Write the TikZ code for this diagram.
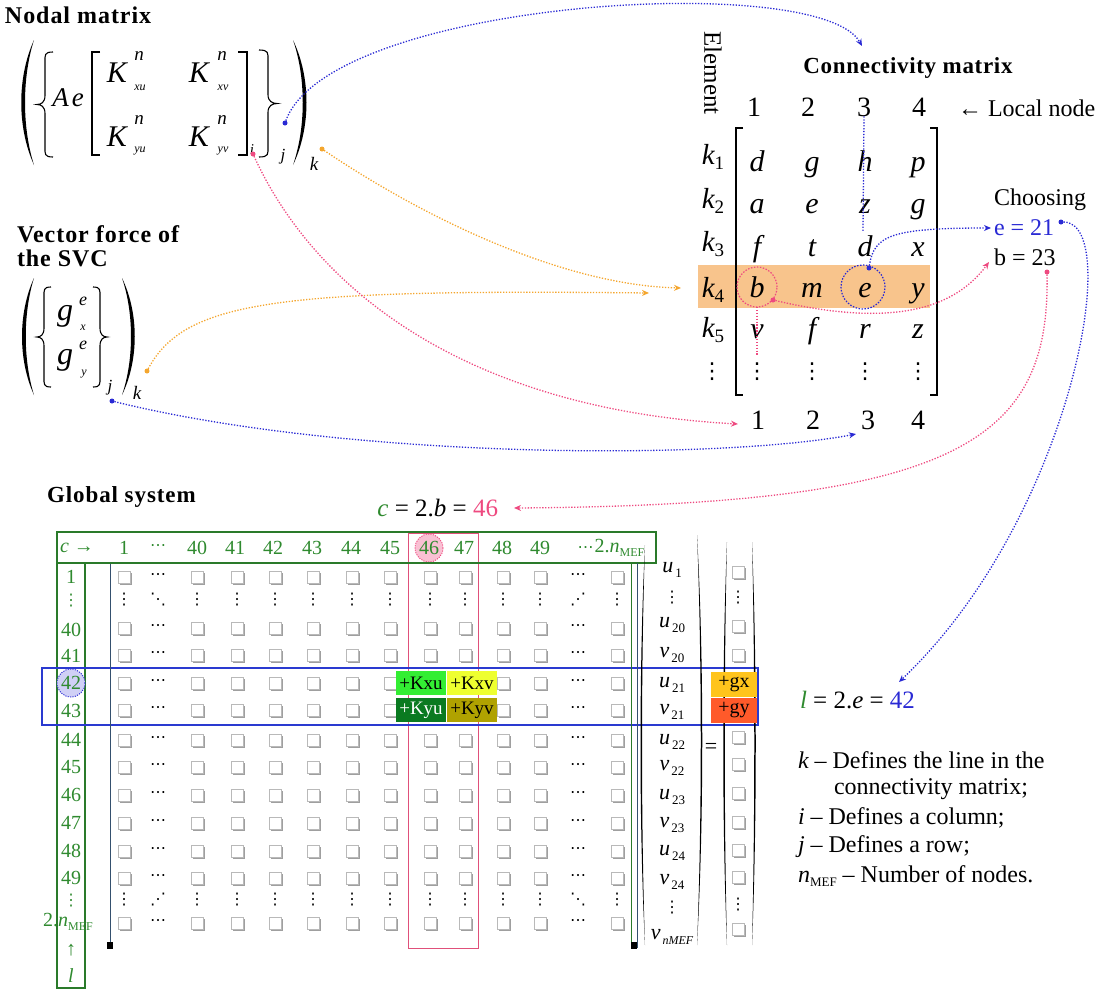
\documentclass[tikz,border=0pt]{standalone}
\usepackage{fontspec}
\setmainfont{Liberation Serif}
\newfontfamily\symf{DejaVu Sans}
\usetikzlibrary{arrows.meta,shadows}
\newcommand{\fsz}[1]{\fontsize{#1}{#1}\selectfont}
\definecolor{cblue}{HTML}{2A2AD4}
\definecolor{cpink}{HTML}{EE4A80}
\definecolor{corange}{HTML}{F4A62E}
\definecolor{cgreen}{HTML}{2F8A2F}
\definecolor{cgbox}{HTML}{2A7A2A}
\definecolor{hlor}{HTML}{F8C48C}
\definecolor{rectpink}{HTML}{E0507A}
\definecolor{rectblue}{HTML}{2A3AD0}
\definecolor{kxu}{HTML}{33EE33}
\definecolor{kxv}{HTML}{EEFF30}
\definecolor{kyu}{HTML}{0A7A20}
\definecolor{kyv}{HTML}{B0A200}
\definecolor{gxc}{HTML}{FFC41C}
\definecolor{gyc}{HTML}{FF5A2A}
\definecolor{brk}{HTML}{34506E}
% brace: tip x, top, bottom, width (negative = right brace)
\newcommand{\Brc}[4]{\draw[line width=1.1pt] ({#1+#4},#2) .. controls ({#1+0.45*#4},#2) and ({#1+0.5*#4},{#2+3}) .. ({#1+0.5*#4},{#2+10}) -- ({#1+0.5*#4},{(#2+#3)/2-9}) .. controls ({#1+0.5*#4},{(#2+#3)/2-2}) and ({#1+0.25*#4},{(#2+#3)/2}) .. (#1,{(#2+#3)/2}) .. controls ({#1+0.25*#4},{(#2+#3)/2}) and ({#1+0.5*#4},{(#2+#3)/2+2}) .. ({#1+0.5*#4},{(#2+#3)/2+9}) -- ({#1+0.5*#4},{#3-10}) .. controls ({#1+0.5*#4},{#3-3}) and ({#1+0.45*#4},#3) .. ({#1+#4},#3);}
% paren: end x, top, bottom, outer bulge, inner bulge
\newcommand{\Prn}[5]{\fill[black] (#1,#2) .. controls ({#1-#4},{#2+0.3*(#3-#2)}) and ({#1-#4},{#3-0.3*(#3-#2)}) .. (#1,#3) .. controls ({#1-#5},{#3-0.3*(#3-#2)}) and ({#1-#5},{#2+0.3*(#3-#2)}) .. (#1,#2) -- cycle;}
% bracket: x, top, bottom, width
\newcommand{\Brk}[4]{\draw[line width=1.3pt] ({#1+#4},#2) -- (#1,#2) -- (#1,#3) -- ({#1+#4},#3);}
\begin{document}
\begin{tikzpicture}[x=1pt,y=-1pt,
  every node/.style={inner sep=0pt, outer sep=0pt},
  ttl/.style={anchor=west, font=\fsz{24}\bfseries\addfontfeatures{LetterSpace=4}},
  endpt/.style={circle, minimum size=5pt, fill=#1},
  conn/.style={draw=#1, line width=1.3pt, dash pattern=on 1.3pt off 1.6pt, -{Stealth[length=7pt,width=6pt]}},
  vline/.style={draw=#1, line width=1.3pt, dash pattern=on 1.3pt off 1.6pt},
  dcirc/.style={circle, draw=#1, dash pattern=on 1.5pt off 1.5pt, line width=1.2pt},
  cent/.style={anchor=base, font=\fsz{30}\itshape},
  hdr/.style={font=\fsz{20}, text=cgreen},
  gdot/.style={font=\symf\fsz{16}},
  cbx/.style={minimum size=12pt, draw=gray!55, line width=0.6pt, fill=white, drop shadow={shadow xshift=1.7pt, shadow yshift=-1.7pt, fill=gray!75, opacity=1}},
  cell/.style={minimum width=50pt, minimum height=24pt, font=\fsz{19}},
  uent/.style={font=\fsz{22}},
  leg/.style={anchor=west, font=\fsz{24}}]
\useasboundingbox (0,0) rectangle (1120,1002);

%%%%% Nodal matrix
\node[ttl] (tnodal) at (5,15) {Nodal matrix};
\Prn{34}{40}{165}{17}{12}
\Prn{293}{40}{165}{-18}{-13}
\Brc{37}{52}{157}{16}
\Brc{277}{50}{157}{-18}
\Brk{92}{52}{155}{8}
\Brk{247}{52}{155}{-9}
\node[font=\fsz{27}\itshape] (Ae) at (68,98) {A\kern3pt e};
\node[font=\fsz{30}\itshape] (K11) at (117,73) {K};
\node[font=\fsz{19}\itshape] (n11) at (139,56) {n};
\node[font=\fsz{12}\itshape] (s11) at (140,88) {xu};
\node[font=\fsz{30}\itshape] (K12) at (199,73) {K};
\node[font=\fsz{19}\itshape] (n12) at (222,56) {n};
\node[font=\fsz{12}\itshape] (s12) at (223,88) {xv};
\node[font=\fsz{30}\itshape] (K21) at (117,137) {K};
\node[font=\fsz{19}\itshape] (n21) at (139,120) {n};
\node[font=\fsz{12}\itshape] (s21) at (140,151) {yu};
\node[font=\fsz{30}\itshape] (K22) at (199,137) {K};
\node[font=\fsz{19}\itshape] (n22) at (222,120) {n};
\node[font=\fsz{12}\itshape] (s22) at (223,151) {yv};
\node[font=\fsz{15}\itshape] (ni) at (252,150) {i};
\node[font=\fsz{17}\itshape] (nj) at (283,157) {j};
\node[font=\fsz{19}\itshape] (nk) at (314,164) {k};

%%%%% Vector force
\node[ttl] (tvec1) at (17,234) {Vector force of};
\node[ttl] (tvec2) at (17,258) {the SVC};
\Prn{34}{278}{395}{16}{11}
\Prn{122}{278}{395}{-17}{-12}
\Brc{37}{287}{387}{14}
\Brc{107}{287}{387}{-14}
\node[font=\fsz{32}\itshape] (gx) at (65,316) {g};
\node[font=\fsz{18}\itshape] (gxe) at (83,301) {e};
\node[font=\fsz{12}\itshape] (gxs) at (83,328) {x};
\node[font=\fsz{32}\itshape] (gy) at (65,360) {g};
\node[font=\fsz{18}\itshape] (gye) at (83,345) {e};
\node[font=\fsz{12}\itshape] (gys) at (84,374) {y};
\node[font=\fsz{17}\itshape] (vj) at (110,388) {j};
\node[font=\fsz{19}\itshape] (vk) at (137,393) {k};

%%%%% Connectivity matrix
\fill[hlor] (698,265) rectangle (930,308);
\node[rotate=-90, font=\fsz{25}] (elem) at (713,73) {Element};
\node[font=\fsz{23}\bfseries\addfontfeatures{LetterSpace=3}] (tconn) at (908,68) {Connectivity matrix};
\node[font=\fsz{28}] (hd1) at (754,107) {1};
\node[font=\fsz{28}] (hd2) at (808,107) {2};
\node[font=\fsz{28}] (hd3) at (864,107) {3};
\node[font=\fsz{28}] (hd4) at (919,107) {4};
\node[anchor=west, font=\fsz{24}] (lnode) at (958,108) {← Local node};
\Brk{736}{128}{395}{7}
\Brk{937}{128}{395}{-7}
\node[anchor=base, font=\fsz{29}] (k1) at (713,164) {\itshape k\upshape\fsz{19}\raisebox{-5pt}{1}};
\node[anchor=base, font=\fsz{29}] (k2) at (713,208) {\itshape k\upshape\fsz{19}\raisebox{-5pt}{2}};
\node[anchor=base, font=\fsz{29}] (k3) at (713,251) {\itshape k\upshape\fsz{19}\raisebox{-5pt}{3}};
\node[anchor=base, font=\fsz{29}] (k4) at (713,297) {\itshape k\upshape\fsz{19}\raisebox{-5pt}{4}};
\node[anchor=base, font=\fsz{29}] (k5) at (713,337) {\itshape k\upshape\fsz{19}\raisebox{-5pt}{5}};
\node[font=\symf\fsz{22}] (kd) at (712,372) {⋮};
\foreach \a/\b/\c/\d/\yy [count=\i] in {d/g/h/p/171, a/e/z/g/213, f/t/d/x/256, b/m/e/y/297, v/f/r/z/338} {
  \node[cent] (e\i-1) at (757,\yy) {\a};
  \node[cent] (e\i-2) at (812,\yy) {\b};
  \node[cent] (e\i-3) at (865,\yy) {\c};
  \node[cent] (e\i-4) at (918,\yy) {\d};
}
\foreach \xx [count=\i] in {757,812,865,918} {\node[font=\symf\fsz{22}] (ed\i) at (\xx,372) {⋮};}
\node[font=\fsz{28}] (bt1) at (758,420) {1};
\node[font=\fsz{28}] (bt2) at (813,420) {2};
\node[font=\fsz{28}] (bt3) at (868,420) {3};
\node[font=\fsz{28}] (bt4) at (918,420) {4};
\node[dcirc=cpink, minimum size=40pt] (bcirc) at (757,287) {};
\node[dcirc=cblue, minimum size=44pt] (ecirc) at (863,287) {};
\coordinate (c3end) at (863,232);
\draw[vline=cblue] (hd3.south) -- (c3end);
\coordinate (bvend) at (757,355);
\draw[vline=cpink] (bcirc.south) -- (bvend);
\node[anchor=west, font=\fsz{24}] (choos) at (994,200) {Choosing};
\node[anchor=west, font=\fsz{24}, text=cblue] (e21) at (994,228) {e = 21};
\node[anchor=west, font=\fsz{24}] (b23) at (994,257) {b = 23};

%%%%% Global system
\node[ttl, font=\fsz{23}\bfseries\addfontfeatures{LetterSpace=4}] (tglob) at (47,497) {Global system};
\node[anchor=east, font=\fsz{25}] (ceq) at (498,508) {\textcolor{cgreen}{\itshape c} = 2.{\itshape b} = \textcolor{cpink}{46}};
% pink column
\draw[rectpink, line width=1pt] (408,533) rectangle (478,948);
\node[circle, minimum size=28pt, fill=cpink!35, draw=cpink, dash pattern=on 1.2pt off 1.2pt, line width=0.9pt] (c46) at (429,548) {};
\draw[cgbox, line width=1.2pt] (57,532) rectangle (656,563);
\draw[cgbox, line width=1.2pt] (57,563) rectangle (85,988);
\node[hdr] (hc) at (77,548) {{\itshape c} →};
\foreach \t/\xx [count=\i] in {1/124, 40/197, 41/235, 42/273, 43/312, 44/351, 45/390, 46/429, 47/464, 48/502, 49/540} {\node[hdr] (h\i) at (\xx,548) {\t};}
\node[hdr, font=\symf\fsz{16}] (hdots) at (158,548) {⋯};
\node[hdr] (hn) at (611,548) {{\symf\fsz{16}⋯}\kern1pt2.{\itshape n}{\fsz{12}\raisebox{-4pt}{MEF}}};
% blue row highlight
\node[circle, minimum size=28pt, fill=cblue!22, draw=cblue, dash pattern=on 1.2pt off 1.2pt, line width=0.9pt] (c42) at (71,683) {};
\draw[rectblue, line width=1.3pt] (42,668) rectangle (758,725);
% row labels
\foreach \t/\yy [count=\i] in {1/577, 40/630, 41/656, 42/683, 43/711, 44/740, 45/767, 46/795, 47/823, 48/851, 49/878} {\node[hdr] (r\i) at (71,\yy) {\t};}
\node[hdr, font=\symf\fsz{16}] (rd1) at (71,601) {⋮};
\node[hdr, font=\symf\fsz{16}] (rd2) at (71,901) {⋮};
\node[hdr] (rn) at (68,922) {2.{\itshape n}{\fsz{12}\raisebox{-4pt}{MEF}}};
\node[hdr] (rarr) at (71,950) {↑};
\node[hdr, font=\fsz{20}\itshape] (rl) at (71,976) {l};
% matrix brackets
\draw[brk, line width=0.9pt] (110,564) -- (110,948);
\fill (107,942) rectangle (113,949);
\draw[cgbox, line width=1pt] (631,563) -- (631,948);
\draw[brk, line width=0.9pt] (637,563) -- (637,948);
\fill (631,942) rectangle (637,949);
% grid
\foreach \yy [count=\r] in {577,600,628,655,683,710,740,767,795,823,851,878,900,923} {
  \foreach \xx [count=\cc] in {124,158,197,237,275,313,352,390,430,465,503,540,578,617} {
    \pgfmathtruncatemacro{\dr}{(\r==2)+(\r==13)}
    \pgfmathtruncatemacro{\dc}{(\cc==2)+(\cc==13)}
    \pgfmathtruncatemacro{\hid}{((\r==5)+(\r==6))*((\cc==9)+(\cc==10))}
    \pgfmathtruncatemacro{\dd}{(\r==2)*(\cc==2)+(\r==13)*(\cc==13)}
    \ifnum\hid=0
      \ifnum\dr=1
        \ifnum\dc=1
          \ifnum\dd=1 \node[gdot] (g\r-\cc) at (\xx,\yy) {⋱};\else \node[gdot] (g\r-\cc) at (\xx,\yy) {⋰};\fi
        \else \node[gdot] (g\r-\cc) at (\xx,\yy) {⋮};\fi
      \else
        \ifnum\dc=1 \node[gdot] (g\r-\cc) at (\xx,\yy) {⋯};\else \node[cbx] (g\r-\cc) at (\xx,\yy) {};\fi
      \fi
    \fi
  }
}
\node[cell, fill=kxu] (ckxu) at (421,683) {+Kxu};
\node[cell, fill=kxv] (ckxv) at (472,683) {+Kxv};
\node[cell, fill=kyu, text=white] (ckyu) at (421,710) {+Kyu};
\node[cell, fill=kyv] (ckyv) at (472,710) {+Kyv};
% unknown vector
\Prn{645}{545}{945}{6}{4}
\Prn{697}{535}{945}{-7}{-5}
\foreach \l/\s/\yy [count=\i] in {u/1/570, u/20/625, v/20/655, u/21/685, v/21/712, u/22/742, v/22/768, u/23/797, v/23/825, u/24/853, v/24/882} {
  \node[uent] (u\i) at (672,\yy) {{\itshape\l}\kern2pt{\fsz{13}\raisebox{-5pt}{\s}}};
}
\node[font=\symf\fsz{16}] (ud1) at (672,598) {⋮};
\node[font=\symf\fsz{16}] (ud2) at (672,908) {⋮};
\node[uent] (unm) at (672,937) {{\itshape v}\kern2pt{\fsz{12}\itshape\raisebox{-5pt}{nMEF}}};
\node[font=\fsz{22}] (eqs) at (711,748) {=};
% right hand side
\Prn{727}{542}{945}{5}{3}
\Prn{752}{542}{945}{-5}{-3}
\foreach \yy [count=\i] in {572,626,655,737,764,793,822,850,877,929} {\node[cbx] (f\i) at (738,\yy) {};}
\node[font=\symf\fsz{16}] (fd1) at (738,598) {⋮};
\node[font=\symf\fsz{16}] (fd2) at (738,905) {⋮};
\node[minimum width=46pt, minimum height=25pt, fill=gxc, font=\fsz{20}] (cgx) at (734,684) {+gx};
\node[minimum width=46pt, minimum height=25pt, fill=gyc, font=\fsz{20}] (cgy) at (734,710) {+gy};

%%%%% Legend
\node[anchor=west, font=\fsz{25}] (leq) at (800,700) {\textcolor{cgreen}{\itshape l} = 2.{\itshape e} = \textcolor{cblue}{42}};
\node[leg] (lg1) at (798,760) {{\itshape k} – Defines the line in the};
\node[leg] (lg2) at (834,789) {connectivity matrix;};
\node[leg] (lg3) at (798,818) {{\itshape i} – Defines a column;};
\node[leg] (lg4) at (798,847) {{\itshape j} – Defines a row;};
\node[leg] (lg5) at (798,876) {{\itshape n}{\fsz{13}\raisebox{-4pt}{MEF}} – Number of nodes.};

%%%%% Connector endpoints
\node[endpt=cblue] (dNb) at (285,123) {};
\node[endpt=cpink] (dNp) at (253,154) {};
\node[endpt=corange] (dNo) at (322,149) {};
\node[endpt=corange] (dVo) at (147,371) {};
\node[endpt=cblue] (dVb) at (112,401) {};
\node[endpt=cpink] (dBb) at (773,300) {};
\node[endpt=cblue] (dEe) at (869,268) {};
\node[endpt=cblue] (dE21) at (1061,222) {};
\node[endpt=cpink] (dB23) at (1047,272) {};
\coordinate (tConn) at (862,46);
\coordinate (tK4a) at (681,288);
\coordinate (tK4b) at (649,293);
\coordinate (tB1) at (738,424);
\coordinate (tB3) at (856,434);
\coordinate (tE21) at (991,228);
\coordinate (tB23) at (989,262);
\coordinate (tC) at (514,508);
\coordinate (tL) at (899,682);

%%%%% Connectors
\draw[conn=cblue] (dNb) .. controls (330,0) and (820,-30) .. (tConn);
\draw[conn=corange] (dNo) .. controls (420,215) and (560,285) .. (tK4a);
\draw[conn=corange] (dVo) .. controls (185,300) and (280,289) .. (tK4b);
\draw[conn=cpink] (dNp) .. controls (320,300) and (480,410) .. (tB1);
\draw[conn=cblue] (dVb) .. controls (350,460) and (720,460) .. (tB3);
\draw[conn=cblue] (dEe) .. controls (874,235) and (892,228) .. (tE21);
\draw[conn=cpink] (dBb) .. controls (880,325) and (950,315) .. (tB23);
\draw[conn=cpink] (dB23) .. controls (1050,440) and (960,505) .. (tC);
\draw[conn=cblue] (dE21) .. controls (1125,222) and (1070,520) .. (tL);
\end{tikzpicture}
\end{document}
